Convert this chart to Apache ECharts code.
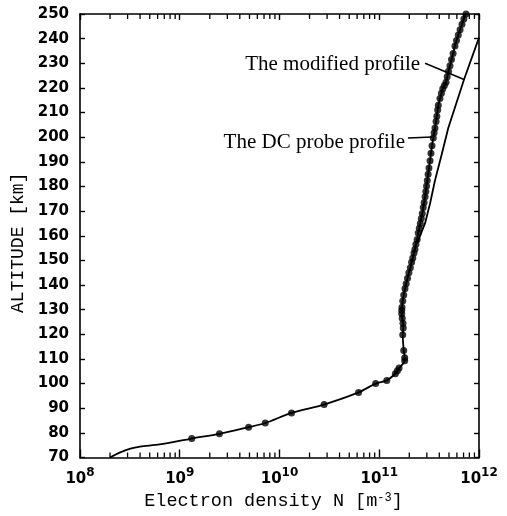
<!DOCTYPE html>
<html><head><meta charset="utf-8">
<script src="https://cdn.jsdelivr.net/npm/echarts@6/dist/echarts.min.js"></script>
<style>html,body{margin:0;padding:0;background:#fff}#c{width:507px;height:516px}</style>
</head><body><div id="c"></div>
<script>
// Axis ranges
const xMin = 1e8, xMax = 1e12;
const yMin = 70, yMax = 250, yStep = 10;

// DC probe profile: line tail below the first measured dot
const dcTailN   = [2.0e8, 2.5e8, 3.2e8, 4.0e8, 6.3e8];
const dcTailAlt = [70, 72.0, 73.6, 74.4, 75.3];

// DC probe profile: measured dots (electron density m^-3, altitude km)
const dotN = [1.32e9,2.5e9,4.9e9,7.2e9,1.32e10,2.8e10,6.2e10,9.2e10,1.19e11,1.45e11,1.52e11,1.58e11,1.80e11,1.80e11,1.76e11,1.72e11,1.74e11,1.73e11,1.70e11,1.68e11,1.68e11,1.69e11,1.72e11,1.76e11,1.81e11,1.86e11,1.92e11,1.98e11,2.05e11,2.11e11,2.17e11,2.23e11,2.28e11,2.33e11,2.40e11,2.46e11,2.52e11,2.58e11,2.64e11,2.70e11,2.76e11,2.82e11,2.88e11,2.93e11,2.98e11,3.03e11,3.09e11,3.15e11,3.23e11,3.30e11,3.38e11,3.48e11,3.55e11,3.62e11,3.71e11,3.78e11,3.85e11,3.91e11,4.06e11,4.20e11,4.33e11,4.50e11,4.67e11,4.80e11,4.95e11,5.12e11,5.30e11,5.50e11,5.74e11,5.95e11,6.20e11,6.46e11,6.75e11,7.05e11,7.41e11];
const dotAlt = [77.7,79.6,82.3,84.0,88.1,91.5,96.4,100.0,101.3,104.0,105.2,106.3,109.3,110.5,113.4,119.8,122.6,124.5,126.5,128.3,129.8,131.0,133.5,136.0,138.5,140.5,142.8,145.0,147.0,149.2,151.0,153.0,154.5,156.5,158.5,161.1,163.0,165.0,167.0,169.0,171.5,173.5,175.8,178.0,180.2,182.4,185.0,187.5,190.4,193.5,196.5,199.7,201.8,203.7,206.4,208.5,211.0,213.0,215.7,217.8,219.7,221.0,222.3,224.5,226.8,229.0,231.5,234.0,237.0,239.2,241.5,243.6,245.8,248.0,250.0];

// Modified profile (departs from the DC probe profile above ~157 km)
const modN   = [2.40e11, 2.88e11, 3.23e11, 3.62e11, 4.23e11, 4.92e11, 7.08e11, 1e12];
const modAlt = [157, 165.1, 173.1, 182.4, 193.1, 203.7, 223.4, 240.4];

// Minor log ticks (2..9 per decade)
const minorTicks = [2e8,3e8,4e8,5e8,6e8,7e8,8e8,9e8,2e9,3e9,4e9,5e9,6e9,7e9,8e9,9e9,2e10,3e10,4e10,5e10,6e10,7e10,8e10,9e10,2e11,3e11,4e11,5e11,6e11,7e11,8e11,9e11];

// Annotations: label, text right-end (N, alt), arrow start and end (N, alt)
const annModified = {text: 'The modified profile', at: [2.57e11, 229.6], from: [2.88e11, 230.0], to: [7.08e11, 223.4]};
const annDC       = {text: 'The DC probe profile', at: [1.81e11, 198.0], from: [1.94e11, 199.7], to: [3.38e11, 200.1]};

const monoFont = '"Liberation Mono", monospace';
const numFont = '"DejaVu Sans", sans-serif';

const chart = echarts.init(document.getElementById('c'), null, {renderer: 'canvas'});

const dcLine = dcTailN.map((n, i) => [n, dcTailAlt[i]]).concat(dotN.map((n, i) => [n, dotAlt[i]]));
const dots = dotN.map((n, i) => [n, dotAlt[i]]);
const modLine = modN.map((n, i) => [n, modAlt[i]]);

const axisLine = {show: true, lineStyle: {color: '#000', width: 1.6}};

chart.setOption({
  animation: false,
  backgroundColor: '#fff',
  grid: {left: 80, right: 28, top: 14, bottom: 51, containLabel: false},
  xAxis: [{
    type: 'log', logBase: 10, min: xMin, max: xMax, position: 'bottom',
    axisLine: axisLine,
    axisTick: {show: true, inside: true, length: 8, lineStyle: {color: '#000', width: 1.4}},
    splitLine: {show: false},
    axisLabel: {
      margin: 9,
      formatter: v => '{b|10}{s|' + Math.round(Math.log10(v)) + '}',
      rich: {
        b: {fontFamily: numFont, fontSize: 15, fontWeight: 'bold', color: '#000', verticalAlign: 'bottom', lineHeight: 20},
        s: {fontFamily: numFont, fontSize: 12, fontWeight: 'bold', color: '#000', verticalAlign: 'top', lineHeight: 20, padding: [0,0,8,0]}
      }
    },
    name: 'Electron density N [m{s|-3}]',
    nameLocation: 'middle', nameGap: 34,
    nameTextStyle: {
      fontFamily: monoFont, fontSize: 18.5, color: '#000', padding: [0, 12, 0, 0],
      rich: {s: {fontFamily: monoFont, fontSize: 12, color: '#000', verticalAlign: 'top', padding: [0,0,8,0]}}
    }
  }, {
    type: 'log', logBase: 10, min: xMin, max: xMax, position: 'top',
    axisLine: axisLine,
    axisTick: {show: true, inside: true, length: 6, lineStyle: {color: '#000', width: 1.4}},
    axisLabel: {show: false}, splitLine: {show: false}
  }],
  yAxis: [{
    type: 'value', min: yMin, max: yMax, interval: yStep, position: 'left',
    axisLine: axisLine,
    axisTick: {show: true, inside: true, length: 5, lineStyle: {color: '#000', width: 1.4}},
    splitLine: {show: false},
    axisLabel: {margin: 11, fontFamily: numFont, fontSize: 15, fontWeight: 'bold', color: '#000'},
    name: 'ALTITUDE [km]', nameLocation: 'middle', nameGap: 51, nameRotate: 90,
    nameTextStyle: {fontFamily: monoFont, fontSize: 18, color: '#000', padding: [0, 14, 0, 0]}
  }, {
    type: 'value', min: yMin, max: yMax, interval: yStep, position: 'right',
    axisLine: axisLine,
    axisTick: {show: true, inside: true, length: 5, lineStyle: {color: '#000', width: 1.4}},
    axisLabel: {show: false}, splitLine: {show: false}
  }],
  series: [
    {
      name: 'DC probe profile line', type: 'line', data: dcLine, smooth: 0.3,
      showSymbol: false, symbol: 'none',
      lineStyle: {color: '#000', width: 1.8}, z: 3
    },
    {
      name: 'DC probe profile', type: 'scatter', data: dots, symbol: 'circle', symbolSize: 7,
      itemStyle: {color: '#000'}, z: 4
    },
    {
      name: 'Modified profile', type: 'line', data: modLine, smooth: false,
      showSymbol: false, symbol: 'none',
      lineStyle: {color: '#000', width: 1.8}, z: 3
    },
    {
      name: 'minor ticks', type: 'custom', data: minorTicks.map(v => [v, yMin]),
      silent: true, clip: false, z: 5,
      renderItem: (params, api) => {
        const v = api.value(0);
        const pb = api.coord([v, yMin]);
        const pt = api.coord([v, yMax]);
        const st = {stroke: '#000', lineWidth: 1.3};
        return {type: 'group', children: [
          {type: 'line', shape: {x1: pb[0], y1: pb[1], x2: pb[0], y2: pb[1] - 5}, style: st},
          {type: 'line', shape: {x1: pt[0], y1: pt[1], x2: pt[0], y2: pt[1] + 5}, style: st}
        ]};
      }
    }
  ]
});

function annGraphics(a) {
  const at = chart.convertToPixel({xAxisIndex: 0, yAxisIndex: 0}, a.at);
  const f = chart.convertToPixel({xAxisIndex: 0, yAxisIndex: 0}, a.from);
  const t = chart.convertToPixel({xAxisIndex: 0, yAxisIndex: 0}, a.to);
  return [
    {type: 'text', x: at[0], y: at[1], style: {text: a.text, align: 'right', verticalAlign: 'middle',
      fontFamily: '"Liberation Serif", serif', fontSize: 21, fill: '#000'}, z: 10},
    {type: 'line', shape: {x1: f[0], y1: f[1], x2: t[0], y2: t[1]}, style: {stroke: '#000', lineWidth: 1.5}, z: 10}
  ];
}
chart.setOption({graphic: annGraphics(annModified).concat(annGraphics(annDC))});
</script></body></html>
